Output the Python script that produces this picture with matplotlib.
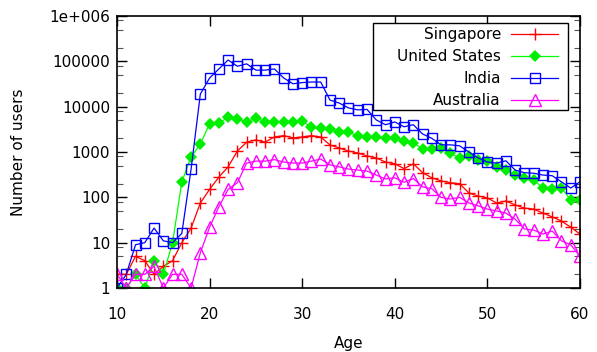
import matplotlib
matplotlib.use("Agg")
import matplotlib.pyplot as plt
from matplotlib.patches import Rectangle
from matplotlib.ticker import FixedLocator, FixedFormatter, NullFormatter

ages = list(range(10, 61))

singapore = [2, 2, 5, 4, 2, 3, 4, 10, 21, 75, 150, 280, 470, 1050, 1650, 1850, 1650, 2150, 2300, 2050,
             2150, 2300, 2150, 1430, 1230, 1050, 950, 820, 740, 600, 550, 430, 550, 350, 270, 230,
             210, 200, 125, 107, 97, 75, 83, 68, 58, 55, 45, 37, 30, 22, 15.5]
united_states = [1, 1, 2, 1, 4, 2, 10, 220, 780, 1500, 4200, 4300, 5900, 5400, 4600, 5600, 4700, 4600, 4700, 4700,
                 4800, 3500, 3400, 3300, 2800, 2700, 2300, 2150, 2100, 2050, 2000, 1770, 1600, 1170, 1170, 1230,
                 950, 740, 820, 670, 640, 470, 400, 310, 270, 240, 160, 155, 160, 88, 88]
india = [1, 2, 9, 10, 21, 11, 10, 16, 420, 19000, 43000, 68000, 107000, 78000, 88000, 64000, 64000, 68000, 43000, 32000,
         34000, 35000, 35000, 14000, 12000, 9400, 8500, 8700, 5100, 4000, 4600, 3600, 4000, 2500, 2000, 1440,
         1440, 1370, 1000, 740, 600, 570, 640, 400, 350, 340, 310, 300, 220, 160, 220]
australia = [2, 1, 2, 2, 3, 1, 2, 2, 1, 6, 22, 62, 150, 210, 570, 630, 630, 680, 600, 570,
             570, 630, 700, 520, 470, 420, 400, 380, 310, 255, 270, 215, 260, 170, 155, 100,
             92, 100, 75, 65, 55, 50, 45, 33, 20, 19, 15.5, 18, 11, 9, 5]

series_names = ["Singapore", "United States", "India", "Australia"]
ytick_vals = [1, 10, 100, 1000, 10000, 100000, 1000000]
ytick_labels = ["1", "10", "100", "1000", "10000", "100000", "1e+006"]
xtick_vals = [10, 20, 30, 40, 50, 60]

plt.rcParams['font.family'] = ['DejaVu Sans']
plt.rcParams['font.size'] = 11

W, H = 597, 352
fig = plt.figure(figsize=(W / 100, H / 100), dpi=100)
ax = fig.add_axes([0.196, 0.1818, 0.7755, 0.7727])

ax.plot(ages, singapore, color='#ff0000', lw=0.9, marker='+', ms=8.5, mew=1.0, label=series_names[0])
ax.plot(ages, united_states, color='#00ff00', lw=0.9, marker='D', ms=6, mew=0, mfc='#00ee00', label=series_names[1])
ax.plot(ages, india, color='#0000ff', lw=0.9, marker='s', ms=7.5, mfc='none', mew=1.0, label=series_names[2])
ax.plot(ages, australia, color='#ff00ff', lw=0.9, marker='^', ms=8, mfc='none', mew=1.0, label=series_names[3])

ax.set_yscale('log')
ax.set_xlim(10, 60)
ax.set_ylim(1, 1e6)
ax.yaxis.set_major_locator(FixedLocator(ytick_vals))
ax.yaxis.set_major_formatter(FixedFormatter(ytick_labels))
minors = [m * 10 ** e for e in range(0, 6) for m in (2, 5, 8)]
ax.yaxis.set_minor_locator(FixedLocator(minors))
ax.yaxis.set_minor_formatter(NullFormatter())
ax.set_xticks(xtick_vals)
ax.set_xticklabels([str(v) for v in xtick_vals])

ax.tick_params(axis='both', which='major', direction='in', length=7, width=1, top=True, right=True)
ax.tick_params(axis='x', which='major', pad=14)
ax.tick_params(axis='y', which='major', pad=5)
ax.tick_params(axis='y', which='minor', direction='in', length=4, width=0.8, color='#555555', right=True)
for s in ax.spines.values():
    s.set_linewidth(1.2)

ax.set_ylabel("Number of users", labelpad=17)
ax.set_xlabel("Age", labelpad=10)

leg = ax.legend(loc='upper right', bbox_to_anchor=(0.963, 0.975), markerfirst=False, frameon=False,
                borderpad=0.3, labelspacing=0.45,
                handlelength=3.1, handletextpad=0.65, borderaxespad=0)
leg.set_zorder(6)

# legend frame (gnuplot-style box)
x0, x1, ytop, ybot = 373, 568, 23, 110
frame = Rectangle((x0 / W, 1 - ybot / H), (x1 - x0) / W, (ybot - ytop) / H,
                  transform=fig.transFigure, facecolor='white', edgecolor='black', lw=1.0, zorder=5)
ax.add_artist(frame)
frame.set_clip_on(False)

fig.savefig("out.png", dpi=100)
